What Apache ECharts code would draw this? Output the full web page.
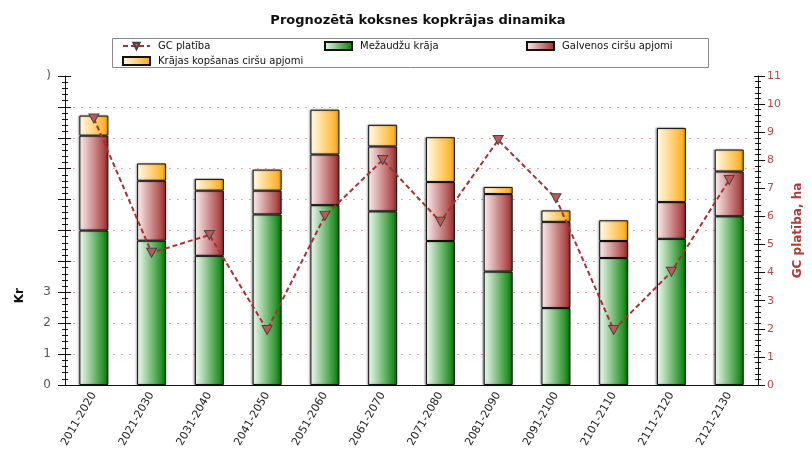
<!DOCTYPE html>
<html><head><meta charset="utf-8">
<script src="https://cdn.jsdelivr.net/npm/echarts@6/dist/echarts.min.js"></script>
<style>html,body{margin:0;padding:0;background:#fff}#c{width:812px;height:471px}</style>
</head><body><div id="c"></div>
<script>
const categories = ['2011-2020','2021-2030','2031-2040','2041-2050','2051-2060','2061-2070','2071-2080','2081-2090','2091-2100','2101-2110','2111-2120','2121-2130'];
const mezaudzuKraja = [5.0, 4.67, 4.18, 5.52, 5.82, 5.62, 4.66, 3.67, 2.49, 4.11, 4.73, 5.46];
const galvenosCirsu = [3.07, 1.94, 2.11, 0.77, 1.64, 2.10, 1.91, 2.51, 2.79, 0.55, 1.19, 1.45];
const krajasKopsanas = [0.65, 0.56, 0.38, 0.68, 1.45, 0.70, 1.45, 0.23, 0.37, 0.67, 2.40, 0.71];
const gcPlatiba = [9.49, 4.71, 5.34, 1.96, 6.02, 8.01, 5.81, 8.72, 6.65, 1.96, 4.03, 7.30];
const leftTickLabels = {0:'0',1:'1',2:'2',3:'3',10:')'};
const legendNames = ['GC platība','Mežaudžu krāja','Galvenos ciršu apjomi','Krājas kopšanas ciršu apjomi'];

const FONT = 'DejaVu Sans';
const chart = echarts.init(document.getElementById('c'), null, {renderer:'canvas'});
const grad = (a,b) => new echarts.graphic.LinearGradient(0,0,1,0,[{offset:0,color:a},{offset:1,color:b}]);
const barStyle = (a,b) => ({color:grad(a,b), borderColor:'#111', borderWidth:1, shadowColor:'rgba(0,0,0,0.35)', shadowBlur:2, shadowOffsetX:-1});

const legendPos = [[122,41],[324,41],[526,41],[122,56]];
const legends = legendNames.map((n,i) => ({
  data:[{name:n, icon: i===0 ? undefined : 'rect'}], left:legendPos[i][0], top:legendPos[i][1], padding:0,
  itemWidth:27, itemHeight:8, itemGap:0,
  textStyle:{fontFamily:FONT, fontSize:10, color:'#111', padding:[0,0,0,3]}
}));

const yCommon = {type:'value', min:0, interval:1, splitNumber:10};
chart.setOption({
  animation:false,
  title:{text:'Prognozētā koksnes kopkrājas dinamika', left:413, textAlign:'center', top:9,
    textStyle:{fontFamily:FONT, fontSize:13, fontWeight:'bold', color:'#111'}},
  legend:legends,
  grid:{left:65, right:47, top:76, bottom:86},
  xAxis:{type:'category', data:categories, boundaryGap:true,
    axisLine:{lineStyle:{color:'#111'}},
    axisTick:{alignWithLabel:true, length:5, lineStyle:{color:'#555'}},
    axisLabel:{rotate:60, fontFamily:FONT, fontSize:11, color:'#222', margin:8, interval:0}},
  yAxis:[
    Object.assign({}, yCommon, {max:10, position:'left',
      axisLine:{show:true, lineStyle:{color:'#111'}},
      axisTick:{show:true, length:7, lineStyle:{color:'#111'}},
      minorTick:{show:true, splitNumber:5, length:3, lineStyle:{color:'#111'}},
      splitLine:{show:true, showMinLine:false, showMaxLine:false, lineStyle:{color:'#e6a8a8', type:[2,6], width:1}},
      axisLabel:{fontFamily:FONT, fontSize:12, color:'#555', margin:14,
        formatter:v => (leftTickLabels[v] !== undefined ? leftTickLabels[v] : '')}}),
    Object.assign({}, yCommon, {max:11, position:'right',
      name:'GC platība, ha', nameLocation:'middle', nameRotate:90, nameGap:27,
      nameTextStyle:{fontFamily:FONT, fontSize:12, fontWeight:'bold', color:'#b03a3a'},
      axisLine:{show:true, lineStyle:{color:'#111'}},
      axisTick:{show:true, length:7, lineStyle:{color:'#111'}},
      minorTick:{show:true, splitNumber:5, length:3, lineStyle:{color:'#111'}},
      splitLine:{show:false},
      axisLabel:{fontFamily:FONT, fontSize:11, color:'#c04848', margin:9}}),
    Object.assign({}, yCommon, {max:10, position:'left',
      axisLine:{show:false}, axisTick:{show:true, inside:true, length:6, lineStyle:{color:'#111'}},
      minorTick:{show:true, splitNumber:5, length:3, lineStyle:{color:'#111'}},
      splitLine:{show:false}, axisLabel:{show:false}}),
    Object.assign({}, yCommon, {max:11, position:'right',
      axisLine:{show:false}, axisTick:{show:true, inside:true, length:4, lineStyle:{color:'#111'}},
      minorTick:{show:true, splitNumber:5, length:3, lineStyle:{color:'#111'}},
      splitLine:{show:false}, axisLabel:{show:false}})
  ],
  graphic:[
    {type:'rect', shape:{x:112.5, y:38.5, width:596, height:29}, style:{fill:'none', stroke:'#888', lineWidth:1}, z:-1},
    {type:'text', left:14, top:288, rotation:Math.PI/2,
      style:{text:'Kr', font:'bold 12px "DejaVu Sans"', fill:'#111'}}],
  series:[
    {name:'GC platība', type:'line', yAxisIndex:1, data:gcPlatiba, z:10,
      symbol:'triangle', symbolRotate:180, symbolSize:[10,9],
      lineStyle:{color:'#a83232', width:2, type:[5,3]},
      itemStyle:{color:'#c05858', borderColor:'#444', borderWidth:1}},
    {name:'Mežaudžu krāja', type:'bar', stack:'k', barWidth:29, data:mezaudzuKraja,
      itemStyle:barStyle('#f2faf2','#007d00')},
    {name:'Galvenos ciršu apjomi', type:'bar', stack:'k', barWidth:29, data:galvenosCirsu,
      itemStyle:barStyle('#fbeeee','#a02a2a')},
    {name:'Krājas kopšanas ciršu apjomi', type:'bar', stack:'k', barWidth:29, data:krajasKopsanas,
      itemStyle:barStyle('#fffcee','#ffa80a')}
  ]
});
</script></body></html>
